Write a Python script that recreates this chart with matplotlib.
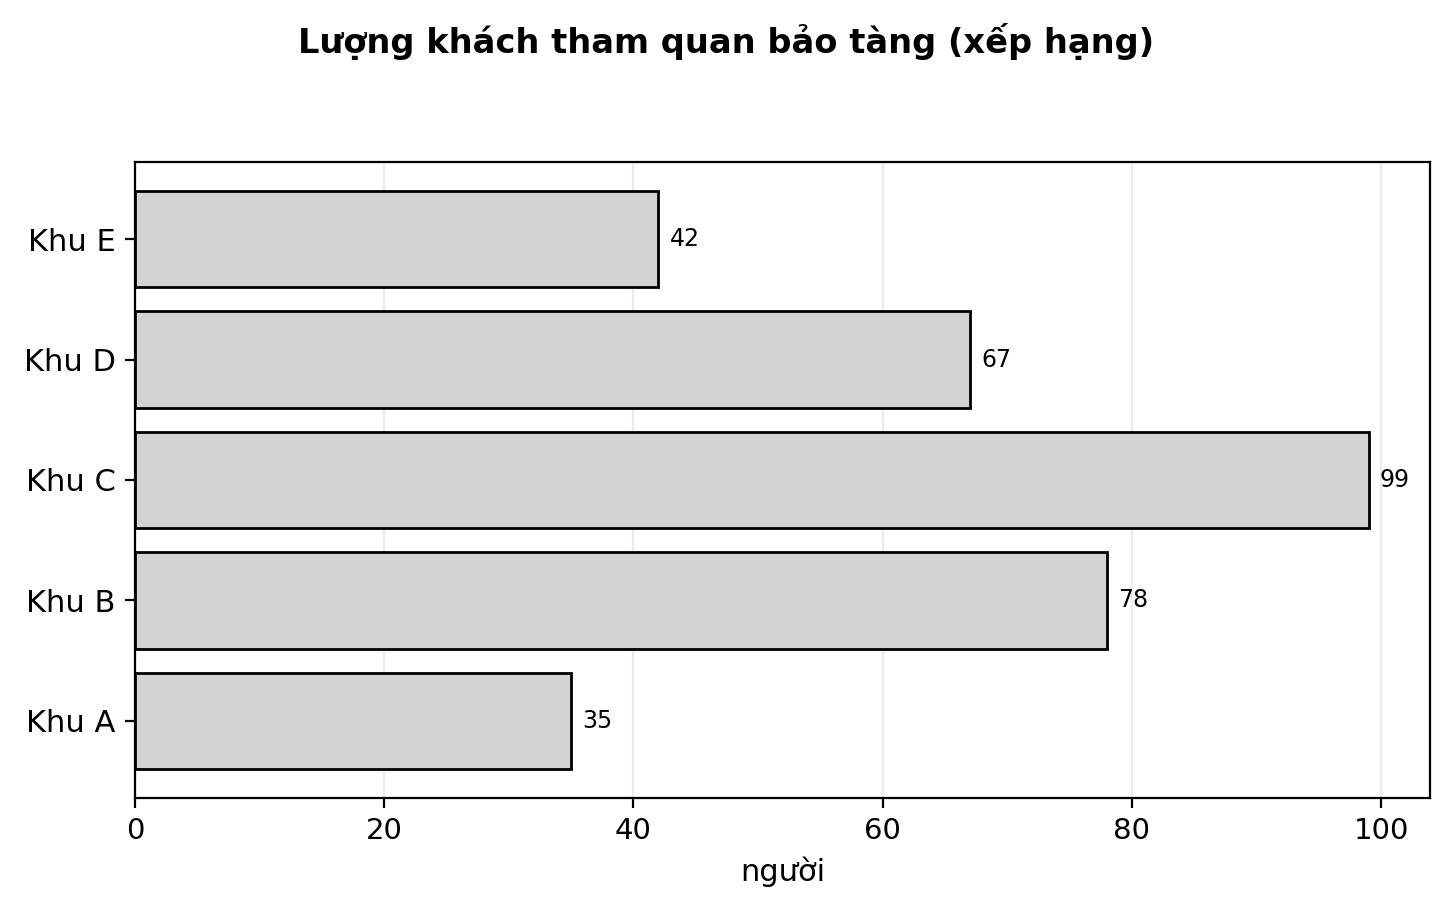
import numpy as np
import matplotlib.pyplot as plt

# data
zones = ['Khu A', 'Khu B', 'Khu C', 'Khu D', 'Khu E']
visitors = [35, 78, 99, 67, 42]

fig = plt.figure(figsize=(7.26, 4.565), dpi=200)
ax = fig.add_axes([0.093, 0.126, 0.892, 0.6966])

y = np.arange(len(zones))
bars = ax.barh(y, visitors, height=0.8, color='#d3d3d3', edgecolor='black', linewidth=1.0, zorder=3)
ax.set_yticks(y)
ax.set_yticklabels(zones, fontsize=11)
ax.tick_params(axis='x', labelsize=10.5)
ax.set_xlim(0, max(visitors) * 1.05)
ax.grid(axis='x', color='#ebebeb', linewidth=0.8, zorder=0)
ax.set_axisbelow(True)
ax.set_xlabel('người', fontsize=11)

for b, v in zip(bars, visitors):
    ax.text(b.get_width() + 0.9, b.get_y() + b.get_height() / 2, str(v),
            va='center', ha='left', fontsize=8.5)

fig.suptitle('Lượng khách tham quan bảo tàng (xếp hạng)', fontsize=12.1, fontweight='bold', y=0.975)

fig.savefig('out.png', dpi=200)
